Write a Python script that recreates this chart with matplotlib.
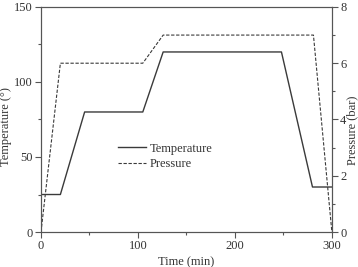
import matplotlib
matplotlib.use("Agg")
import matplotlib.pyplot as plt
from matplotlib.ticker import MultipleLocator

plt.rcParams["font.family"] = ["Liberation Serif", "DejaVu Serif"]
plt.rcParams["font.size"] = 9

# data
time_temp = [0, 20, 45, 105, 126, 248, 280, 300]
temperature = [25, 25, 80, 80, 120, 120, 30, 30]
time_pres = [0, 20, 105, 126, 281, 300]
pressure = [0, 6, 6, 7, 7, 0]

line_col = "#3a3a3a"
axis_col = "#555555"
text_col = "#333333"

fig = plt.figure(figsize=(3.58, 2.67), dpi=100)
ax = fig.add_axes([0.1145, 0.131, 0.8125, 0.843])
ax2 = ax.twinx()

l1, = ax.plot(time_temp, temperature, color=line_col, lw=1.0, label="Temperature")
l2, = ax2.plot(time_pres, pressure, color=line_col, lw=0.8, ls=(0, (3, 1.5)), label="Pressure")

ax.set_xlim(0, 300)
ax.set_ylim(0, 150)
ax2.set_ylim(0, 8)

ax.xaxis.set_major_locator(MultipleLocator(100))
ax.xaxis.set_minor_locator(MultipleLocator(50))
ax.yaxis.set_major_locator(MultipleLocator(50))
ax.yaxis.set_minor_locator(MultipleLocator(25))
ax2.yaxis.set_major_locator(MultipleLocator(2))
ax2.yaxis.set_minor_locator(MultipleLocator(1))

for a in (ax, ax2):
    for s in a.spines.values():
        s.set_color(axis_col)
        s.set_linewidth(0.8)
    a.tick_params(which="both", direction="out", colors=axis_col, labelcolor=text_col,
                  labelsize=9, width=0.8, pad=2)
    a.tick_params(which="major", length=4)
    a.tick_params(which="minor", length=2)

ax.set_xlabel("Time (min)", fontsize=9, color=text_col)
ax.set_ylabel("Temperature (°)", fontsize=9, color=text_col)
ax2.set_ylabel("Pressure (bar)", fontsize=9, color=text_col)
ax.xaxis.set_label_coords(0.5, -0.108)
ax.yaxis.set_label_coords(-0.10, 0.47)
ax2.yaxis.set_label_coords(1.05, 0.45)

ax.legend(handles=[l1, l2], loc="upper left", bbox_to_anchor=(0.235, 0.435),
          frameon=False, fontsize=9, handlelength=2.2, handletextpad=0.3,
          labelspacing=0.28, labelcolor=text_col, borderpad=0.2)

fig.savefig("out.png", dpi=100)
